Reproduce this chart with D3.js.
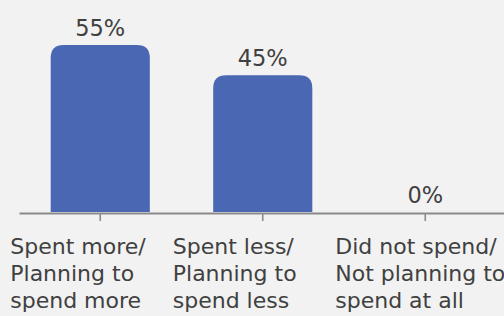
<!DOCTYPE html>
<html>
<head>
<meta charset="utf-8">
<script src="https://cdn.jsdelivr.net/npm/d3@7"></script>
<style>
  html, body { margin: 0; padding: 0; background: #f2f2f2; }
  svg { display: block; }
</style>
</head>
<body>
<script>
// chart data
const categories = ["spentMore", "spentLess", "didNotSpend"];
const labelLines = [
  ["Spent more/", "Planning to", "spend more"],
  ["Spent less/", "Planning to", "spend less"],
  ["Did not spend/", "Not planning to", "spend at all"]
];
const values = [55, 45, 0];

const width = 504, height = 316;
const baseY = 212;
const font = "'DejaVu Sans', sans-serif";

const svg = d3.select("body")
    .append("svg")
    .attr("width", width)
    .attr("height", height);

const x = d3.scaleBand()
    .domain(categories)
    .range([19, 506.5])
    .paddingInner(0.39)
    .paddingOuter(0.195);

const y = d3.scaleLinear()
    .domain([0, 55])
    .range([baseY, 45]);

// bars with rounded top corners
function barPath(x0, w, yTop) {
  const h = baseY - yTop;
  if (h <= 0) return "";
  const r = Math.min(13, h, w / 2);
  return `M${x0},${baseY}V${yTop + r}Q${x0},${yTop} ${x0 + r},${yTop}` +
         `H${x0 + w - r}Q${x0 + w},${yTop} ${x0 + w},${yTop + r}V${baseY}Z`;
}

svg.append("g")
  .selectAll("path")
  .data(values)
  .join("path")
    .attr("d", (d, i) => barPath(x(categories[i]), x.bandwidth(), y(d)))
    .attr("fill", "#4a67b3");

// value labels
svg.append("g")
  .selectAll("text")
  .data(values)
  .join("text")
    .attr("x", (d, i) => x(categories[i]) + x.bandwidth() / 2)
    .attr("y", d => y(d) - 9)
    .attr("text-anchor", "middle")
    .attr("font-family", font)
    .attr("font-size", 22.5)
    .attr("fill", "#404040")
    .text(d => d + "%");

// x axis
const axis = svg.append("g")
    .attr("transform", `translate(0,${baseY + 1})`)
    .call(d3.axisBottom(x).tickSize(8).tickSizeOuter(0).tickFormat(""));
axis.select(".domain").attr("stroke", "#8a8a8a").attr("stroke-width", 2);
axis.selectAll(".tick line").attr("stroke", "#8a8a8a").attr("stroke-width", 1.6);

// category labels
const catText = svg.append("g")
  .selectAll("text")
  .data(labelLines)
  .join("text")
    .attr("font-family", font)
    .attr("font-size", 22)
    .attr("fill", "#404040");

catText.selectAll("tspan")
  .data((d, i) => d.map(line => ({ line, i })))
  .join("tspan")
    .attr("x", d => x(categories[d.i]) + x.bandwidth() / 2 - 90)
    .attr("y", (d, j) => 254 + j * 27)
    .text(d => d.line);
</script>
</body>
</html>
